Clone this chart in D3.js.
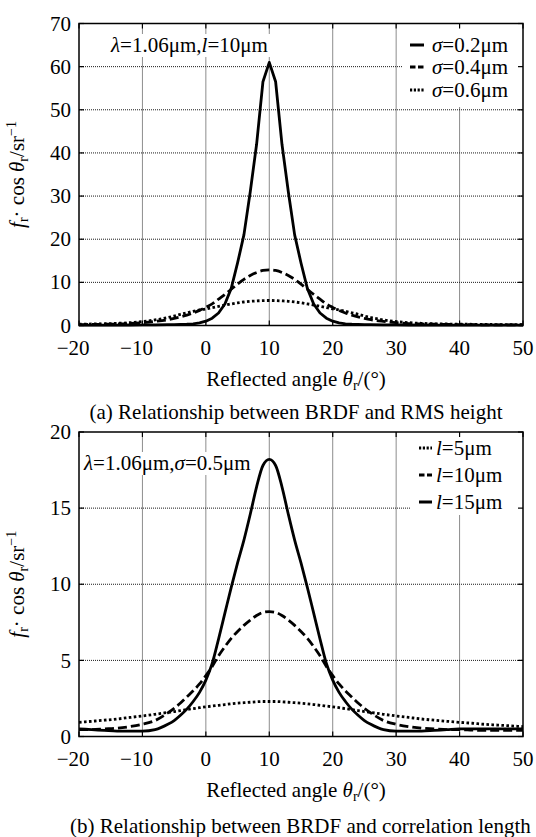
<!DOCTYPE html>
<html>
<head>
<meta charset="utf-8">
<script src="https://cdnjs.cloudflare.com/ajax/libs/d3/7.8.5/d3.min.js"></script>
<style>
	body { margin: 0; background: #fff; }
</style>
</head>
<body>
<svg id="fig" width="536" height="837"></svg>
<script>
// reflected angle (deg) of every sample point
const angles = [-20,-18,-16,-14,-12,-10,-8,-6,-5,-4,-3,-2,-1,0,1,2,3,4,5,6,7,8,9,10,
	11,12,13,14,15,16,17,18,19,20,21,22,23,24,25,26,28,30,32,34,36,38,40,42,44,46,48,50];

// (a) BRDF vs RMS height, l = 10um
const sigma02 = [0.1,0.1,0.1,0.1,0.12,0.15,0.15,0.2,0.2,0.25,0.3,0.4,0.6,1.0,1.7,2.9,5.0,8.6,14.5,21,31,42,56.5,
	61,
	56.5,42,31,21,14.5,8.6,5.0,2.9,1.7,1.0,0.6,0.4,0.3,0.25,0.2,0.2,0.15,0.15,0.12,0.1,0.1,0.1,0.1,0.1,0.1,0.1,0.1,0.1];
const sigma04 = [0.2,0.25,0.3,0.35,0.45,0.65,0.95,1.35,1.65,2.0,2.4,2.9,3.5,4.2,5.0,6.1,7.2,8.4,9.6,10.7,11.6,12.3,12.75,
	12.9,
	12.75,12.3,11.6,10.7,9.6,8.4,7.2,6.1,5.0,4.2,3.5,2.9,2.4,2.0,1.65,1.35,0.95,0.65,0.45,0.35,0.3,0.25,0.2,0.2,0.15,0.15,0.15,0.15];
const sigma06 = [0.3,0.35,0.4,0.5,0.65,0.9,1.3,1.85,2.2,2.6,2.95,3.3,3.6,3.85,4.15,4.45,4.75,5.0,5.25,5.45,5.6,5.7,5.77,
	5.8,
	5.77,5.7,5.6,5.45,5.25,5.0,4.75,4.45,4.15,3.85,3.6,3.3,2.95,2.6,2.2,1.85,1.3,0.9,0.65,0.5,0.4,0.35,0.3,0.28,0.25,0.22,0.2,0.2];

// (b) BRDF vs correlation length, sigma = 0.5um
const corrL5 = [0.93,1.0,1.07,1.15,1.25,1.35,1.46,1.58,1.64,1.7,1.77,1.83,1.89,1.95,2.0,2.05,2.1,2.15,2.19,2.22,2.25,2.28,2.3,
	2.3,
	2.3,2.28,2.25,2.22,2.19,2.15,2.1,2.05,2.0,1.95,1.89,1.83,1.77,1.7,1.64,1.58,1.46,1.35,1.25,1.15,1.07,1.0,0.93,0.87,0.8,0.75,0.7,0.65];
const corrL10 = [0.45,0.45,0.5,0.55,0.65,0.8,1.05,1.55,1.85,2.2,2.6,3.0,3.45,4.0,4.6,5.3,5.9,6.45,6.9,7.3,7.65,7.95,8.15,
	8.2,
	8.15,7.95,7.65,7.3,6.9,6.45,5.9,5.3,4.6,4.0,3.45,3.0,2.6,2.2,1.85,1.55,1.05,0.8,0.65,0.55,0.5,0.45,0.45,0.42,0.4,0.4,0.4,0.4];
const corrL15 = [0.5,0.45,0.4,0.35,0.35,0.35,0.45,0.8,1.05,1.4,1.8,2.3,2.9,3.7,4.8,6.4,8.1,9.8,11.4,12.9,14.6,16.4,17.8,
	18.2,
	17.8,16.4,14.6,12.9,11.4,9.8,8.1,6.4,4.8,3.7,2.9,2.3,1.8,1.4,1.05,0.8,0.45,0.35,0.35,0.35,0.4,0.45,0.5,0.5,0.5,0.5,0.5,0.5];

const xTicks = [-20, -10, 0, 10, 20, 30, 40, 50];
const yTicksA = [0, 10, 20, 30, 40, 50, 60, 70];
const yTicksB = [0, 5, 10, 15, 20];

const styles = {
	solid: { dash: null, legendDash: null },
	dashed: { dash: "9,4", legendDash: "5.5,2.5" },
	dotted: { dash: "2.6,2.4", legendDash: "2.2,1.6" }
};

const svg = d3.select("#fig");
const left = 79, right = 523;
const FS = 21;

// every text gets its own font-family
function label(parent) {
	return parent.append("text").attr("font-family", "Liberation Serif").attr("font-size", FS);
}

// write text made of pieces: {t, i (italic), sub, sup}
function rich(sel, parts) {
	let shift = 0;
	parts.forEach(p => {
		const ts = sel.append("tspan").attr("font-family", "Liberation Serif").text(p.t);
		let target = 0;
		if (p.i) ts.attr("font-style", "italic");
		if (p.sub) { ts.attr("font-size", 14); target = 4; }
		if (p.sup) { ts.attr("font-size", 14); target = -8; }
		if (target - shift !== 0) ts.attr("dy", target - shift);
		shift = target;
	});
}

function drawPanel(cfg) {
	const x = d3.scaleLinear().domain([-20, 50]).range([left, right]);
	const y = d3.scaleLinear().domain([0, cfg.yMax]).range([cfg.bottom, cfg.top]);
	const g = svg.append("g");

	// dotted grid
	const grid = g.append("g").attr("stroke", "#1a1a1a").attr("stroke-width", 1).attr("stroke-dasharray", "1,1");
	grid.selectAll("line.v").data(xTicks.slice(1, -1)).join("line")
		.attr("x1", d => x(d)).attr("x2", d => x(d))
		.attr("y1", cfg.bottom).attr("y2", d => x(d) > cfg.legend.box[0] ? cfg.legend.box[3] : cfg.top);
	grid.selectAll("line.h").data(cfg.yTicks.slice(1, -1)).join("line")
		.attr("y1", d => y(d)).attr("y2", d => y(d))
		.attr("x1", left).attr("x2", d => y(d) < cfg.legend.box[3] ? cfg.legend.box[0] : right);

	// white box behind the parameters text
	g.append("rect")
		.attr("x", cfg.note.x - 2).attr("y", cfg.note.y - 18)
		.attr("width", cfg.note.w).attr("height", 23).attr("fill", "#fff");
	label(g).attr("x", cfg.note.x).attr("y", cfg.note.y).call(rich, cfg.note.parts);

	// curves
	cfg.series.forEach(s => {
		const line = d3.line().x((d, i) => x(angles[i])).y(d => y(d)).curve(s.curve);
		g.append("path").datum(s.values)
			.attr("fill", "none").attr("stroke", "#000").attr("stroke-width", 2.8)
			.attr("stroke-linejoin", "round")
			.attr("stroke-dasharray", styles[s.style].dash)
			.attr("d", line);
	});

	// legend
	const lg = cfg.legend;
	cfg.series.forEach(s => {
		g.append("line").attr("x1", lg.x0).attr("x2", lg.x1).attr("y1", lg.rows[s.row]).attr("y2", lg.rows[s.row])
			.attr("stroke", "#000").attr("stroke-width", 3)
			.attr("stroke-dasharray", styles[s.style].legendDash);
		label(g).attr("x", lg.tx).attr("y", lg.rows[s.row] + 7).call(rich, s.label);
	});

	// frame and inward ticks
	g.append("rect").attr("x", left).attr("y", cfg.top)
		.attr("width", right - left).attr("height", cfg.bottom - cfg.top)
		.attr("fill", "none").attr("stroke", "#000").attr("stroke-width", 1.5);
	const tk = g.append("g").attr("stroke", "#000").attr("stroke-width", 1.2);
	xTicks.forEach(t => {
		tk.append("line").attr("x1", x(t)).attr("x2", x(t)).attr("y1", cfg.bottom).attr("y2", cfg.bottom - 5);
		tk.append("line").attr("x1", x(t)).attr("x2", x(t)).attr("y1", cfg.top).attr("y2", cfg.top + 5);
	});
	cfg.yTicks.forEach(t => {
		tk.append("line").attr("x1", left).attr("x2", left + 5).attr("y1", y(t)).attr("y2", y(t));
		tk.append("line").attr("x1", right).attr("x2", right - 5).attr("y1", y(t)).attr("y2", y(t));
	});

	// tick labels
	xTicks.forEach(d => {
		label(g).attr("x", x(d) + (d < 0 ? -5.9 : 0)).attr("y", cfg.bottom + 29)
			.attr("text-anchor", "middle")
			.text(d < 0 ? "\u2212" + Math.abs(d) : d);
	});
	cfg.yTicks.forEach(d => {
		label(g).attr("x", left - 8).attr("y", y(d)).attr("dy", "0.34em")
			.attr("text-anchor", "end").text(d);
	});

	// axis titles
	label(g).attr("x", 296).attr("y", cfg.bottom + 60).attr("text-anchor", "middle")
		.call(rich, [{ t: "Reflected angle " }, { t: "\u03b8", i: true }, { t: "r", sub: true }, { t: "/(\u00b0)" }]);
	label(g)
		.attr("transform", `translate(24, ${(cfg.top + cfg.bottom) / 2}) rotate(-90)`)
		.attr("text-anchor", "middle")
		.call(rich, [{ t: "f", i: true }, { t: "r", sub: true }, { t: "\u00b7 cos " }, { t: "\u03b8", i: true },
			{ t: "r", sub: true }, { t: "/sr" }, { t: "\u22121", sup: true }]);

	// caption
	label(g).attr("x", cfg.caption.x).attr("y", cfg.caption.y)
		.attr("text-anchor", cfg.caption.anchor).text(cfg.caption.text);
}

drawPanel({
	top: 23.5, bottom: 325.5, yMax: 70, yTicks: yTicksA,
	note: { x: 111, y: 52, w: 162, parts: [{ t: "\u03bb", i: true }, { t: "=1.06\u03bcm," }, { t: "l", i: true }, { t: "=10\u03bcm" }] },
	series: [
		{ values: sigma02, style: "solid", curve: d3.curveLinear, row: 0, label: [{ t: "\u03c3", i: true }, { t: "=0.2\u03bcm" }] },
		{ values: sigma04, style: "dashed", curve: d3.curveMonotoneX, row: 1, label: [{ t: "\u03c3", i: true }, { t: "=0.4\u03bcm" }] },
		{ values: sigma06, style: "dotted", curve: d3.curveMonotoneX, row: 2, label: [{ t: "\u03c3", i: true }, { t: "=0.6\u03bcm" }] }
	],
	legend: { box: [402, 23.5, 523, 107], x0: 410, x1: 424, tx: 432, rows: [45, 67, 90] },
	caption: { x: 296, y: 419, anchor: "middle", text: "(a) Relationship between BRDF and RMS height" }
});

drawPanel({
	top: 432, bottom: 736.5, yMax: 20, yTicks: yTicksB,
	note: { x: 84, y: 470, w: 174, parts: [{ t: "\u03bb", i: true }, { t: "=1.06\u03bcm," }, { t: "\u03c3", i: true }, { t: "=0.5\u03bcm" }] },
	series: [
		{ values: corrL5, style: "dotted", curve: d3.curveMonotoneX, row: 0, label: [{ t: "l", i: true }, { t: "=5\u03bcm" }] },
		{ values: corrL10, style: "dashed", curve: d3.curveMonotoneX, row: 1, label: [{ t: "l", i: true }, { t: "=10\u03bcm" }] },
		{ values: corrL15, style: "solid", curve: d3.curveMonotoneX, row: 2, label: [{ t: "l", i: true }, { t: "=15\u03bcm" }] }
	],
	legend: { box: [410, 432, 523, 515], x0: 419, x1: 432, tx: 436, rows: [448, 475, 502] },
	caption: { x: 70, y: 833, anchor: "start", text: "(b) Relationship between BRDF and correlation length" }
});
</script>
</body>
</html>
